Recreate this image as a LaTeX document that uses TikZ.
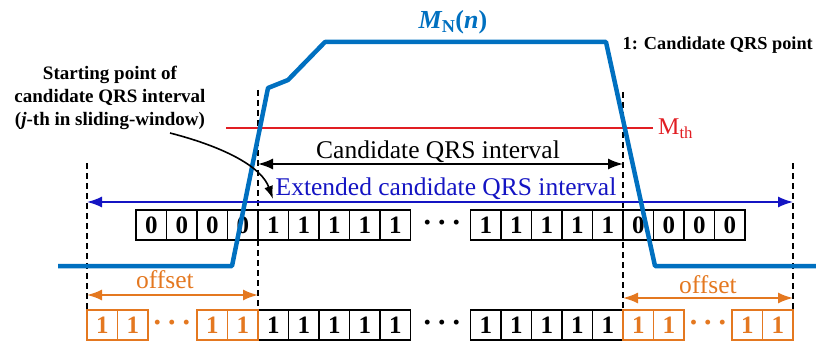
\documentclass[tikz,border=0pt]{standalone}
\usepackage{fontspec}
\setmainfont{Liberation Serif}
\usepackage{tikz}
\usetikzlibrary{arrows.meta}
\usepackage{xcolor}
\definecolor{sigblue}{RGB}{0,112,192}
\definecolor{extblue}{RGB}{20,20,195}
\definecolor{thred}{RGB}{225,30,35}
\definecolor{offorange}{RGB}{228,120,32}
\newcommand{\celldots}{{\fontsize{30}{30}\selectfont\bfseries\rmfamily ·\hspace{4.5pt}·\hspace{4.5pt}·}}

\begin{document}
\begin{tikzpicture}[x=1pt,y=-1pt,>={Latex[length=15pt,width=11pt]},
  cell/.style={draw,line width=1.3pt,minimum width=30.5pt,minimum height=30pt,inner sep=0pt,font=\fontsize{25}{25}\selectfont\bfseries},
  ocell/.style={cell,draw=offorange,text=offorange},
  guide/.style={line width=1.6pt,dash pattern=on 6pt off 4pt},
  big/.style={font=\fontsize{25.5}{30}\selectfont,anchor=base,inner sep=0pt},
  note/.style={font=\fontsize{19}{23}\selectfont\bfseries,inner sep=0pt}]
\useasboundingbox (0,0) rectangle (816,342);
% guide lines
\coordinate (gi1) at (258,90);  \coordinate (gi2) at (258,310);
\coordinate (gj1) at (623,92);  \coordinate (gj2) at (623,310);
\coordinate (go1) at (87,163);  \coordinate (go2) at (87,310);
\coordinate (gp1) at (793,163); \coordinate (gp2) at (793,310);
\draw[guide] (gi1) -- (gi2);
\draw[guide] (gj1) -- (gj2);
\draw[guide] (go1) -- (go2);
\draw[guide] (gp1) -- (gp2);
% threshold
\coordinate (th1) at (226,128); \coordinate (th2) at (653,128);
\draw[thred,line width=2.4pt] (th1) -- (th2);
\node[font=\fontsize{24}{24}\selectfont,text=thred,anchor=west,inner sep=0pt] (mth) at (658,129) {M\textsubscript{th}};
% interval arrows
\coordinate (cl) at (258,164); \coordinate (cr) at (623,164);
\draw[<->,line width=1.8pt] (cl) -- (cr);
\node[big] (cand) at (438,158) {Candidate QRS interval};
\coordinate (el) at (87,202); \coordinate (er) at (793,202);
\draw[<->,extblue,line width=1.6pt] (el) -- (er);
\node[big,text=extblue] (ext) at (446,195) {Extended candidate QRS interval};
% top row
\foreach \v [count=\i] in {0,0,0,0,1,1,1,1,1}
  \node[cell] (ta\i) at ({120.75+30.5*\i},225) {\v};
\foreach \v [count=\i] in {1,1,1,1,1,0,0,0,0}
  \node[cell] (tb\i) at ({455.25+30.5*\i},225) {\v};
\node (tdots) at (442,226) {\celldots};
% bottom row
\foreach \i in {1,...,5} {
  \node[cell] (ba\i) at ({242.75+30.5*\i},325) {1};
  \node[cell] (bb\i) at ({455.25+30.5*\i},325) {1};
}
\foreach \i in {1,2} {
  \node[ocell] (oa\i) at ({71.75+30.5*\i},325) {1};
  \node[ocell] (ob\i) at ({181.75+30.5*\i},325) {1};
  \node[ocell] (oc\i) at ({607.75+30.5*\i},325) {1};
  \node[ocell] (od\i) at ({716.75+30.5*\i},325) {1};
}
\node (bdots) at (442,326) {\celldots};
\node[text=offorange] (odots1) at (172,326) {\celldots};
\node[text=offorange] (odots2) at (708,326) {\celldots};
% offsets
\coordinate (fl1) at (87,295);  \coordinate (fl2) at (258,295);
\draw[<->,offorange,line width=1.8pt] (fl1) -- (fl2);
\node[big,text=offorange] (offl) at (165,288) {offset};
\coordinate (fr1) at (623,298); \coordinate (fr2) at (793,298);
\draw[<->,offorange,line width=1.8pt] (fr1) -- (fr2);
\node[big,text=offorange] (offr) at (708,293) {offset};
% signal
\draw[sigblue,line width=4.5pt,line join=round] (58,266) -- (232,266) -- (268,88) -- (288,80)
  -- (325,42) -- (606,42) -- (655,266) -- (816,266);
\node[font=\fontsize{26}{30}\selectfont\bfseries\itshape,text=sigblue,anchor=base,inner sep=0pt] (mn) at (453,29)
  {M\textsubscript{\upshape N}\textup{(}n\textup{)}};
\node[font=\fontsize{18.3}{20}\selectfont\bfseries,anchor=base east,inner sep=0pt] (pt) at (813,50) {1: Candidate QRS point};
% annotation
\node[note,align=center] (start) at (110,98) {Starting point of\\candidate QRS interval\\(\textit{j}-th in sliding-window)};
\coordinate (sa) at (170,133); \coordinate (sb) at (273,199);
\draw[->,line width=1.6pt,>={Latex[length=13pt,width=9pt]}] (sa) .. controls (228,148) and (262,168) .. (sb);
\end{tikzpicture}
\end{document}
